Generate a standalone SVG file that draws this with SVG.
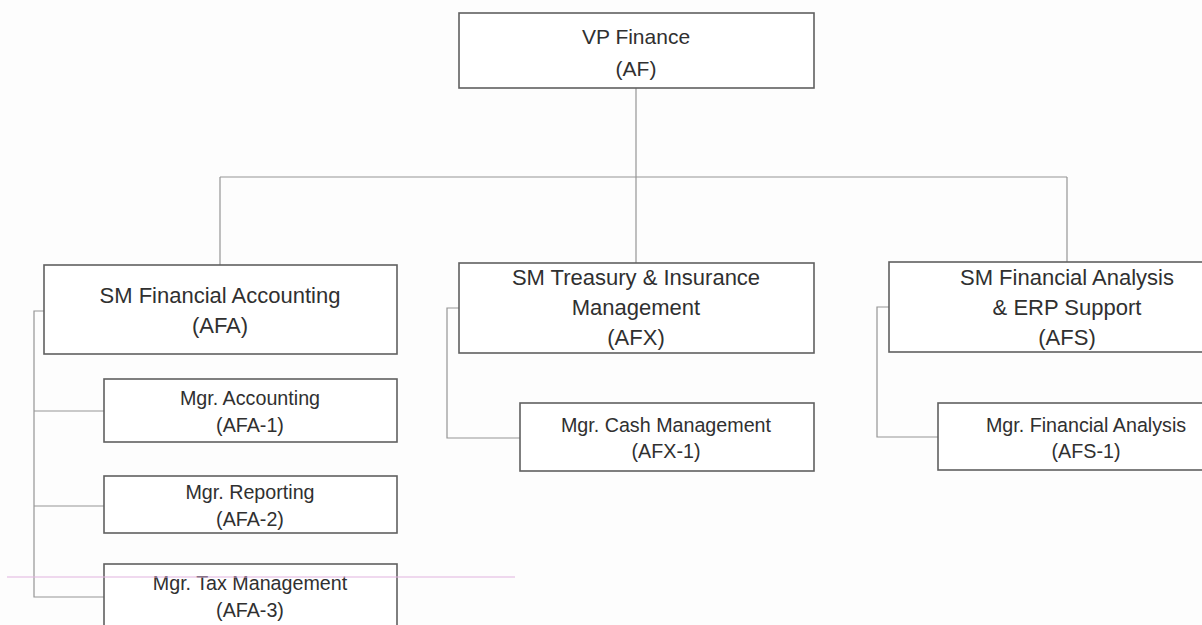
<svg xmlns="http://www.w3.org/2000/svg" width="1202" height="625" viewBox="0 0 1202 625">
  <style>
    .box { fill: #ffffff; stroke: #606060; stroke-width: 1.6; }
    .wire { fill: none; stroke: #959595; stroke-width: 1.2; }
    .guide { fill: none; stroke: #e2b4e0; stroke-width: 1.2; }
    text { font-family: "Liberation Sans", Arial, sans-serif; fill: #303030; text-anchor: middle; }
    .lg { font-size: 21px; }
    .md { font-size: 22px; }
    .sm { font-size: 19.7px; }
  </style>
  <rect width="1202" height="625" fill="#fdfdfd"/>

  <!-- reporting lines -->
  <g id="connectors">
    <path class="wire" d="M636 88 V177"/>
    <path class="wire" d="M220 177 H1067"/>
    <path class="wire" d="M220 177 V265"/>
    <path class="wire" d="M636 177 V263"/>
    <path class="wire" d="M1067 177 V262"/>
    <path class="wire" d="M44 311 H34 V597 H104"/>
    <path class="wire" d="M34 411 H104"/>
    <path class="wire" d="M34 506 H104"/>
    <path class="wire" d="M459 308 H447 V438 H520"/>
    <path class="wire" d="M889 307 H877 V437 H938"/>
  </g>

  <g id="af">
    <rect class="box" x="459" y="13" width="355" height="75"/>
    <text class="lg" x="636" y="44">VP Finance</text>
    <text class="lg" x="636" y="76">(AF)</text>
  </g>

  <g id="afa">
    <rect class="box" x="44" y="265" width="353" height="89"/>
    <text class="md" x="220" y="303">SM Financial Accounting</text>
    <text class="md" x="220" y="333">(AFA)</text>
  </g>

  <g id="afx">
    <rect class="box" x="459" y="263" width="355" height="90"/>
    <text class="md" x="636" y="285">SM Treasury &amp; Insurance</text>
    <text class="md" x="636" y="315">Management</text>
    <text class="md" x="636" y="345">(AFX)</text>
  </g>

  <g id="afs">
    <rect class="box" x="889" y="262" width="356" height="90"/>
    <text class="md" x="1067" y="285">SM Financial Analysis</text>
    <text class="md" x="1067" y="315">&amp; ERP Support</text>
    <text class="md" x="1067" y="345">(AFS)</text>
  </g>

  <g id="afa-1">
    <rect class="box" x="104" y="379" width="293" height="63"/>
    <text class="sm" x="250" y="405">Mgr. Accounting</text>
    <text class="sm" x="250" y="432">(AFA-1)</text>
  </g>

  <g id="afa-2">
    <rect class="box" x="104" y="476" width="293" height="57"/>
    <text class="sm" x="250" y="499">Mgr. Reporting</text>
    <text class="sm" x="250" y="526">(AFA-2)</text>
  </g>

  <g id="afa-3">
    <rect class="box" x="104" y="564" width="293" height="70"/>
    <text class="sm" x="250" y="590">Mgr. Tax Management</text>
    <text class="sm" x="250" y="617">(AFA-3)</text>
  </g>

  <g id="afx-1">
    <rect class="box" x="520" y="403" width="294" height="68"/>
    <text class="sm" x="666" y="432">Mgr. Cash Management</text>
    <text class="sm" x="666" y="458">(AFX-1)</text>
  </g>

  <g id="afs-1">
    <rect class="box" x="938" y="403" width="296" height="67"/>
    <text class="sm" x="1086" y="432">Mgr. Financial Analysis</text>
    <text class="sm" x="1086" y="458">(AFS-1)</text>
  </g>

  <!-- thin pink rule across the lower left -->
  <path class="guide" d="M7 577 H515"/>
</svg>
